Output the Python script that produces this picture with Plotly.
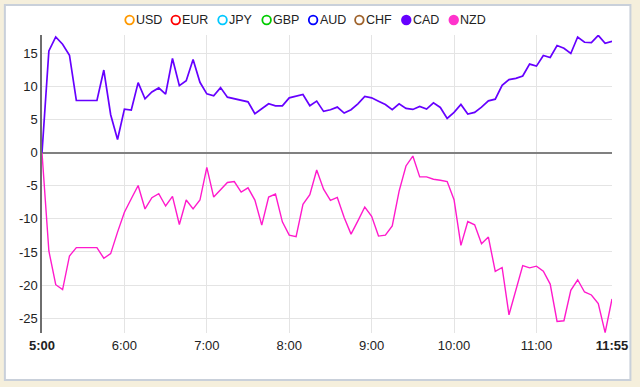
import plotly.graph_objects as go

# ---------------- data ----------------
minutes = list(range(0, 420, 5))  # 5:00 .. 11:55 every 5 minutes

cad = [0, 15.4, 17.5, 16.4, 14.75, 7.9, 7.9, 7.9, 7.9, 12.5,
       5.75, 2.0, 6.6, 6.45, 10.6, 8.15, 9.2, 9.8, 8.85, 14.25,
       10.15, 10.9, 14.1, 10.65, 8.9, 8.6, 9.85, 8.4, 8.15, 8.0,
       7.7, 5.9, 6.6, 7.4, 7.1, 7.1, 8.3, 8.5, 8.8, 7.1,
       7.8, 6.25, 6.5, 6.9, 6.0, 6.5, 7.4, 8.5, 8.3, 7.8,
       7.3, 6.5, 7.4, 6.7, 6.55, 7.0, 6.6, 7.55, 6.85, 5.2,
       6.1, 7.3, 5.85, 6.1, 6.9, 7.85, 8.1, 10.2, 11.05, 11.25,
       11.6, 13.4, 13.1, 14.7, 14.4, 16.2, 15.8, 15.0, 17.5, 16.7,
       16.65, 17.75, 16.55, 16.85]

nzd = [0, -14.85, -19.95, -20.7, -15.6, -14.35, -14.35, -14.35, -14.35, -15.95,
       -15.25, -12.0, -9.0, -6.95, -4.95, -8.5, -6.8, -6.2, -8.05, -6.6,
       -10.85, -7.15, -8.5, -7.15, -2.2, -6.7, -5.6, -4.5, -4.35, -5.95,
       -5.3, -7.15, -10.95, -6.7, -6.25, -10.45, -12.45, -12.7, -7.8, -6.35,
       -2.6, -5.5, -7.2, -6.75, -9.8, -12.3, -10.3, -8.2, -9.6, -12.6,
       -12.45, -11.05, -5.8, -2.0, -0.5, -3.65, -3.65, -4.0, -4.15, -4.35,
       -7.1, -14.0, -10.4, -10.9, -13.75, -12.75, -17.95, -17.35, -24.5, -20.85,
       -17.05, -17.4, -17.15, -17.9, -19.85, -25.5, -25.4, -20.8, -19.2, -21.05,
       -21.5, -22.8, -27.2, -22.1]

x_tick_vals = [0, 60, 120, 180, 240, 300, 360]
x_tick_labels = ["<b>5:00</b>", "6:00", "7:00", "8:00", "9:00", "10:00", "11:00"]
x_end_tick_vals = [415]
x_end_tick_labels = ["<b>11:55</b>"]

y_tick_vals = [-25, -20, -15, -10, -5, 0, 5, 10, 15]
y_tick_labels = ["-25", "-20", "-15", "-10", "-5", "0", "5", "10", "15"]

legend_names = ["USD", "EUR", "JPY", "GBP", "AUD", "CHF", "CAD", "NZD"]
legend_colors = ["#FF9900", "#FF0000", "#00C8FF", "#00CC00", "#0000FF",
                 "#A0642D", "#6600FF", "#FF33CC"]
legend_filled = [False, False, False, False, False, False, True, True]

CAD_COLOR = "#6600FF"
NZD_COLOR = "#FF1ACC"

# ---------------- geometry (pixels) ----------------
W, H = 640, 387
PL, PR, PT, PB = 42.3, 615.0, 35.0, 333.0
PW, PH = PR - PL, PB - PT


def px_x(px):
    return (px - PL) / PW


def px_y(py):
    return (PB - py) / PH


fig = go.Figure()
fig.add_trace(go.Scatter(x=minutes, y=nzd, mode="lines", name="NZD",
                         line=dict(color=NZD_COLOR, width=1.4), showlegend=False))
fig.add_trace(go.Scatter(x=minutes, y=cad, mode="lines", name="CAD",
                         line=dict(color=CAD_COLOR, width=1.7), showlegend=False))
# invisible trace to carry the end tick on an overlay axis
fig.add_trace(go.Scatter(x=[None], y=[None], xaxis="x2", showlegend=False,
                         hoverinfo="skip"))

shapes = [dict(type="rect", xref="paper", yref="paper",
               x0=px_x(5), x1=px_x(633.5), y0=px_y(380), y1=px_y(5),
               fillcolor="white", line=dict(color="#C9D0DA", width=2),
               layer="below")]
annotations = []

legend_cx = [130.3, 176.7, 223.7, 268.0, 314.7, 361.2, 408.3, 456.0]
for cx, name, col, filled in zip(legend_cx, legend_names, legend_colors, legend_filled):
    shapes.append(dict(type="circle", xref="paper", yref="paper",
                       xsizemode="pixel", ysizemode="pixel",
                       xanchor=px_x(cx), yanchor=px_y(20),
                       x0=-4.3, x1=4.3, y0=-4.3, y1=4.3,
                       fillcolor=col if filled else "white",
                       line=dict(color=col, width=1.8), layer="above"))
    annotations.append(dict(xref="paper", yref="paper", x=px_x(cx + 4.5), y=px_y(20.5),
                            text=name, showarrow=False, xanchor="left", yanchor="middle",
                            font=dict(family="Liberation Sans, Arial",
                                      size=12.5, color="#222222")))

fig.update_layout(
    width=W, height=H,
    margin=dict(l=PL, r=W - PR, t=PT, b=H - PB, pad=0),
    paper_bgcolor="#F5EFDC",
    plot_bgcolor="white",
    showlegend=False,
    hovermode=False,
    shapes=shapes,
    annotations=annotations,
    font=dict(family="Liberation Sans, Arial", size=13, color="#222222"),
    xaxis=dict(range=[0, 415], tickmode="array", tickvals=x_tick_vals,
               ticktext=x_tick_labels, showgrid=True, gridcolor="#E4E4E4",
               gridwidth=1, zeroline=False, showline=False, ticks="",
               ticklabelstandoff=3,
               tickfont=dict(size=13, color="#222222")),
    xaxis2=dict(range=[0, 415], overlaying="x", side="bottom", tickmode="array",
                tickvals=x_end_tick_vals, ticktext=x_end_tick_labels,
                showgrid=False, zeroline=False, showline=False, ticks="",
                ticklabelstandoff=3,
                tickfont=dict(size=13, color="#222222")),
    yaxis=dict(range=[-27.25, 17.8], tickmode="array", tickvals=y_tick_vals,
               ticktext=y_tick_labels, showgrid=True, gridcolor="#E4E4E4",
               gridwidth=1, zeroline=True, zerolinecolor="#808080",
               zerolinewidth=1.6, showline=True, linecolor="#6E6E6E",
               linewidth=1.6, ticks="", tickfont=dict(size=13, color="#222222")),
)

fig.write_html("out.html",
               config={"displayModeBar": False, "staticPlot": True},
               post_script="document.body.style.margin='0';"
                           "document.body.style.background='#F5EFDC';")
